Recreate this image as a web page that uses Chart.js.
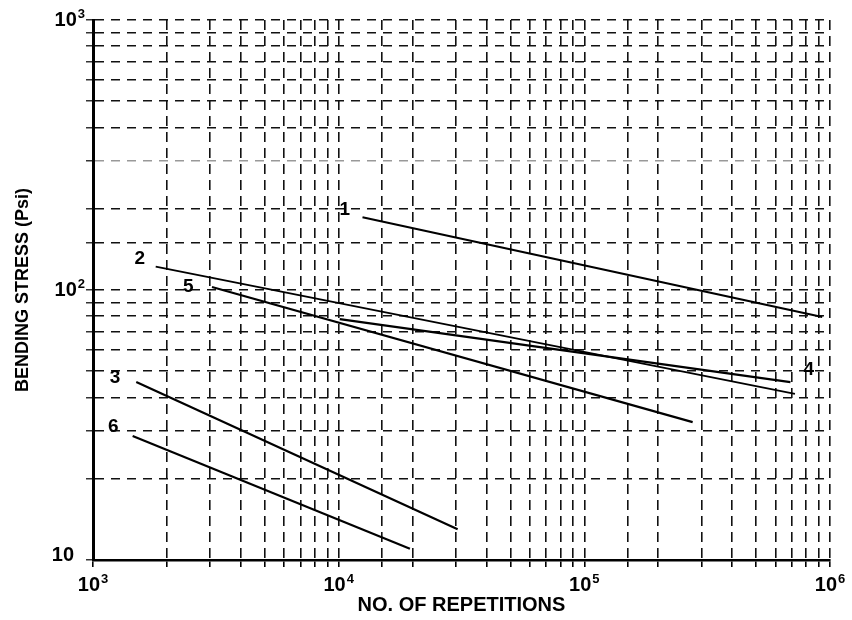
<!DOCTYPE html>
<html>
<head>
<meta charset="utf-8">
<title>Bending stress vs repetitions</title>
<script src="https://cdn.jsdelivr.net/npm/chart.js@4.4.1/dist/chart.umd.min.js"></script>
<style>
  html, body { margin: 0; padding: 0; background: #fff; }
  #chart-wrap { width: 852px; height: 620px; }
</style>
</head>
<body>
<div id="chart-wrap"><canvas id="stress-chart" width="852" height="620"></canvas></div>
<script>
// ---- data (repetitions, stress in psi) ----
var curveNames = ['1', '2', '3', '4', '5', '6'];
var curve1X = [12500, 930000];  var curve1Y = [186, 79.4];
var curve2X = [1800, 720000];   var curve2Y = [122, 41.2];
var curve3X = [1500, 30500];    var curve3Y = [45.6, 13.0];
var curve4X = [10100, 690000];  var curve4Y = [78, 45.6];
var curve5X = [3050, 276000];   var curve5Y = [102.6, 32.4];
var curve6X = [1450, 19500];    var curve6Y = [28.8, 11.0];

// where the curve numbers sit (data coordinates)
var labelX = [10600, 1550, 1230, 820000, 2440, 1210];
var labelY = [198, 131, 47.2, 50.5, 102.6, 31.1];

var xMin = 1000, xMax = 1000000;
var yMin = 10, yMax = 1000;

var fontFamily = '"Liberation Sans", Arial, Helvetica, sans-serif';

function powerOf(v) {
  var e = Math.log10(v);
  if (Math.abs(e - Math.round(e)) > 1e-9) return null;
  return Math.round(e);
}

function toPoints(xs, ys) {
  var pts = [];
  for (var i = 0; i < xs.length; i++) pts.push({ x: xs[i], y: ys[i] });
  return pts;
}

var curvesX = [curve1X, curve2X, curve3X, curve4X, curve5X, curve6X];
var curvesY = [curve1Y, curve2Y, curve3Y, curve4Y, curve5Y, curve6Y];

var datasets = [];
for (var i = 0; i < curveNames.length; i++) {
  datasets.push({
    label: curveNames[i],
    data: toPoints(curvesX[i], curvesY[i]),
    showLine: true,
    borderColor: '#000',
    borderWidth: i === 1 ? 1.8 : 2.2,
    pointRadius: 0,
    fill: false
  });
}

// draw "10" with a real raised exponent, at a given anchor
function drawPower(ctx, e, x, y, align) {
  var base = '10';
  var expo = e === 1 ? '' : String(e);
  ctx.font = 'bold 20px ' + fontFamily;
  var wb = ctx.measureText(base).width;
  ctx.font = 'bold 13px ' + fontFamily;
  var we = expo ? ctx.measureText(expo).width + 1 : 0;
  var left = align === 'right' ? x - wb - we : x - (wb + we) / 2;
  ctx.textAlign = 'left';
  ctx.textBaseline = 'alphabetic';
  ctx.font = 'bold 20px ' + fontFamily;
  ctx.fillText(base, left, y + 7);
  if (expo) {
    ctx.font = 'bold 13px ' + fontFamily;
    ctx.fillText(expo, left + wb + 1, y - 1.5);
  }
}

// ====================== tick labels + curve numbers ======================
var chartText = {
  id: 'chartText',
  afterDraw: function(chart) {
    var ctx = chart.ctx;
    var xs = chart.scales.x, ys = chart.scales.y;
    ctx.save();
    ctx.fillStyle = '#000';
    xs.ticks.forEach(function(t) {
      var e = powerOf(t.value);
      if (e !== null) drawPower(ctx, e, xs.getPixelForValue(t.value), xs.top + 24, 'center');
    });
    ys.ticks.forEach(function(t) {
      var e = powerOf(t.value);
      if (e !== null) {
        var py = ys.getPixelForValue(t.value);
        var right = e === 1 ? ys.right - 19 : ys.right - 8;
        drawPower(ctx, e, right, e === 1 ? py - 6 : py - 1, 'right');
      }
    });
    ctx.font = 'bold 19px ' + fontFamily;
    ctx.textAlign = 'center';
    ctx.textBaseline = 'middle';
    for (var i = 0; i < curveNames.length; i++) {
      ctx.fillText(curveNames[i], xs.getPixelForValue(labelX[i]), ys.getPixelForValue(labelY[i]));
    }
    ctx.restore();
  }
};

var gridColor = function(c) {
  if (c.tick && c.tick.value === 300) return '#999';
  return '#111';
};

new Chart(document.getElementById('stress-chart'), {
  type: 'scatter',
  data: { datasets: datasets },
  options: {
    responsive: false,
    animation: false,
    devicePixelRatio: 1,
    layout: { padding: { top: 20, right: 22, left: 0, bottom: 0 } },
    plugins: {
      legend: { display: false },
      tooltip: { enabled: false }
    },
    scales: {
      x: {
        type: 'logarithmic',
        min: xMin,
        max: xMax,
        afterFit: function(s) { s.height = 60; },
        grid: {
          color: '#111',
          lineWidth: 1.6,
          drawTicks: true,
          tickLength: 7,
          tickColor: '#000',
          tickWidth: 1.6
        },
        border: { display: true, color: '#000', width: 2.5, dash: [10, 6] },
        ticks: {
          autoSkip: false,
          maxRotation: 0,
          callback: function() { return ''; }
        },
        title: {
          display: true,
          text: 'NO. OF REPETITIONS',
          color: '#000',
          font: { size: 20, weight: 'bold', family: fontFamily },
          padding: { top: 0, bottom: 3 }
        }
      },
      y: {
        type: 'logarithmic',
        min: yMin,
        max: yMax,
        afterFit: function(s) { s.width = 93; },
        grid: {
          color: gridColor,
          lineWidth: 1.6,
          drawTicks: true,
          tickLength: 7,
          tickColor: '#000',
          tickWidth: 1.2
        },
        border: { display: true, color: '#000', width: 3, dash: [9, 7] },
        ticks: {
          autoSkip: false,
          callback: function() { return ''; }
        },
        title: {
          display: true,
          text: 'BENDING STRESS (Psi)',
          color: '#000',
          font: { size: 18, weight: 'bold', family: fontFamily },
          padding: { top: 12, bottom: 0 }
        }
      }
    }
  },
  plugins: [chartText]
});
</script>
</body>
</html>
